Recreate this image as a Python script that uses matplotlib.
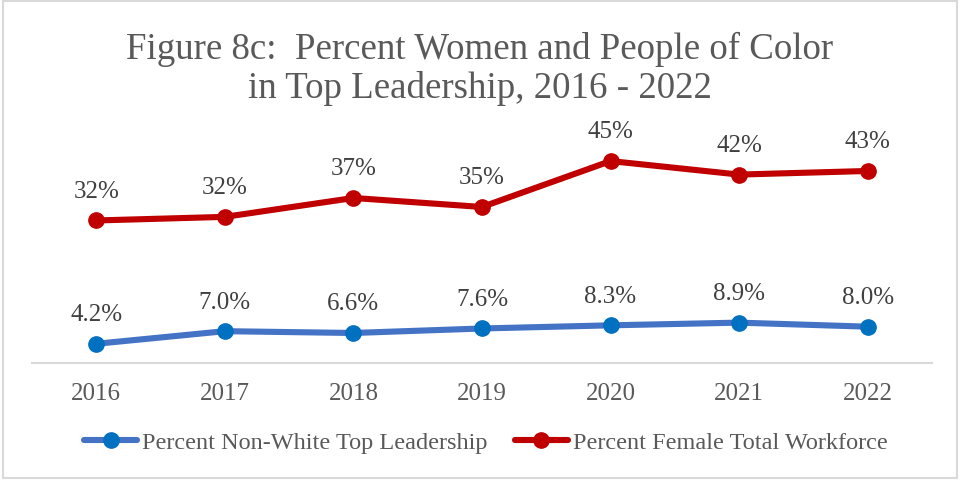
import matplotlib.pyplot as plt
from matplotlib.patches import Rectangle

plt.rcParams["font.family"] = ["Liberation Serif", "DejaVu Serif"]

years = ["2016", "2017", "2018", "2019", "2020", "2021", "2022"]
female_workforce = [31.6, 32.4, 36.6, 34.6, 44.8, 41.8, 42.6]
nonwhite_leadership = [4.2, 7.0, 6.6, 7.6, 8.3, 8.9, 8.0]

TITLE = "Figure 8c:  Percent Women and People of Color\nin Top Leadership, 2016 - 2022"
TEXT_GREY = "#595959"
LABEL_GREY = "#404040"


def main():

    fig = plt.figure(figsize=(9.6, 4.81), dpi=100)

    # light frame round the whole chart
    fig.patches.append(
        Rectangle(
            (0.003, 0.004), 0.994, 0.992,
            transform=fig.transFigure,
            fill=False,
            edgecolor="#D9D9D9",
            linewidth=1.5,
        )
    )

    # baseline of the second title line
    fig.text(
        0.5, 0.796,
        TITLE,
        ha="center",
        va="baseline",
        fontsize=26.6,
        color=TEXT_GREY,
        linespacing=1.17,
    )

    ax = fig.add_axes([0.0333, 0.2439, 0.9375, 0.4678])

    x = range(len(years))

    ax.plot(
        x, nonwhite_leadership,
        color="#4472C4",
        linewidth=4.4,
        marker="o",
        markersize=11,
        markerfacecolor="#0070C0",
        markeredgecolor="#0070C0",
        label="Percent Non-White Top Leadership",
        solid_capstyle="round",
    )

    ax.plot(
        x, female_workforce,
        color="#C00000",
        linewidth=4.4,
        marker="o",
        markersize=11,
        markerfacecolor="#C00000",
        markeredgecolor="#C00000",
        label="Percent Female Total Workforce",
        solid_capstyle="round",
    )

    for i, v in enumerate(nonwhite_leadership):
        ax.annotate(
            f"{v:.1f}%", (i, v),
            xytext=(0, 17), textcoords="offset points",
            ha="center", va="baseline",
            fontsize=18, color=LABEL_GREY,
        )

    for i, v in enumerate(female_workforce):
        ax.annotate(
            f"{v:.0f}%", (i, v),
            xytext=(0, 17), textcoords="offset points",
            ha="center", va="baseline",
            fontsize=18, color=LABEL_GREY,
        )

    ax.set_xlim(-0.5, len(years) - 0.5)
    ax.set_ylim(0, 50)

    ax.set_xticks(list(x))
    ax.set_xticklabels(years)
    ax.tick_params(axis="x", length=0, pad=14, labelsize=18, labelcolor=TEXT_GREY)
    ax.set_yticks([])

    for side in ["top", "left", "right"]:
        ax.spines[side].set_visible(False)
    ax.spines["bottom"].set_color("#D9D9D9")
    ax.spines["bottom"].set_linewidth(1.5)

    fig.legend(
        loc="center",
        bbox_to_anchor=(0.506, 0.079),
        ncol=2,
        frameon=False,
        fontsize=17.5,
        labelcolor=TEXT_GREY,
        handlelength=2.2,
        handletextpad=0.2,
        columnspacing=1.1,
    )

    fig.savefig("out.png", dpi=100)


if __name__ == "__main__":

    main()
